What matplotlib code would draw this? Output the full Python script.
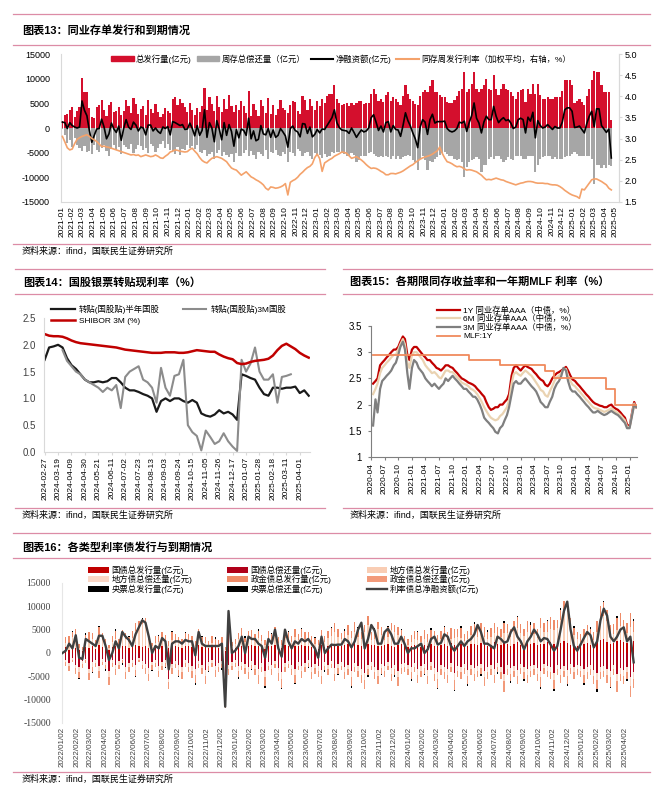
import matplotlib
matplotlib.use('Agg')
import matplotlib.pyplot as plt
import matplotlib.dates as mdates
from matplotlib.lines import Line2D
from matplotlib.patches import Patch
from matplotlib.ticker import FuncFormatter
import numpy as np
import pandas as pd

plt.rcParams['font.family'] = ['Liberation Sans', 'Noto Sans CJK SC']
plt.rcParams['axes.unicode_minus'] = False

# ---------------- chart 13: weekly CD issuance / maturity (亿元) ----------------
CD_ISSUE = [
    1500, 2600, 2900, 3600, 4300, 2200, 3400, 4200, 10200, 7300,
    7300, 4100, 2300, 2000, 4200, 4700, 5800, 3700, 2400, 4600,
    5200, 3200, 3500, 4300, 2700, 3400, 5600, 4400, 3000, 6200,
    4800, 2900, 3800, 4400, 2600, 5600, 3900, 3100, 4800, 3300,
    2200, 2800, 4000, 3500, 3000, 5900, 6300, 4700, 5900, 5000,
    4200, 3300,
    5000, 3600, 2600, 4000, 3300, 4500, 8200, 3700, 6300, 4800,
    3500, 6500, 4200, 3200, 6000, 3900, 6700, 4500, 3200, 4700,
    3600, 5500, 4500, 3000, 7600, 2400, 4900, 3700, 2500, 5700,
    4500, 3100, 6200, 2900, 4600, 2600, 3900, 5700, 4100, 3600,
    3000, 4700, 5400, 5300, 3500, 2800, 6500, 5800, 3700, 6000,
    4500, 3700,
    5500, 4500, 6000, 5000, 6500, 7000, 7000, 8700, 6000, 5000,
    4600, 4800, 5000, 4500, 5000, 4600, 5000, 5400, 5400, 4800,
    5000, 5000, 7000, 8000, 7000, 5500, 6000, 5200, 6800, 7300,
    5500, 6300, 6000, 5200, 4600, 6500, 8700, 7000, 6000, 5500,
    4800, 4600, 6500, 7300, 7700, 7300, 8500, 9700, 7300, 7300,
    6800, 6300,
    6300, 5200, 5000, 5000, 5700, 6500, 7500, 8000, 11400, 7300,
    8000, 9000, 11400, 8000, 7300, 8000, 8700, 10000, 8000, 7700,
    10700, 8000, 6700, 8000, 9000, 8000, 7700, 7300, 6500, 6000,
    7300, 7800, 8000, 5300, 8000, 7000, 9000, 7000, 9000, 6800,
    6000, 6000, 6300, 6000, 6000, 6300, 6300, 6300, 7500, 9700,
    9700, 9700,
    8700, 5000, 5500, 6000, 5300, 4600, 6500, 8000, 9700, 11700,
    11400, 11400, 8700, 7300, 7300, 7300, 1600,
]
CD_REPAY = [
    -300, -1500, -3000, -2500, -3800, -2000, -3400, -4000, -4700, -3700,
    -4800, -4600, -5200, -3500, -4400, -4800, -4000, -3500, -4600, -5800,
    -4200, -3400, -4400, -3900, -5200, -3500, -3900, -4200, -3300, -5000,
    -4200, -3500, -3600, -4400, -4000, -5000, -3300, -3700, -4800, -4000,
    -3300, -2600, -4100, -3200, -4400, -4600, -5200, -3900, -5400, -4300,
    -4500, -3500,
    -4000, -3700, -4200, -3500, -4800, -5000, -4500, -5600, -5200, -4800,
    -6300, -5000, -4400, -5600, -4900, -5400, -6000, -5200, -6900, -5000,
    -5600, -5700, -5000, -4500, -5600, -4600, -5500, -6300, -4800, -5200,
    -5700, -4500, -6300, -4800, -5000, -4500, -5400, -5800, -4900, -5200,
    -6900, -4800, -5000, -5800, -4300, -4600, -5600, -5000, -4800, -5800,
    -6300, -5000,
    -5800, -5500, -6200, -5300, -6000, -5700, -4900, -5000, -4900, -4900,
    -5000, -5300, -5600, -5600, -5000, -5500, -6900, -6500, -5800, -5600,
    -5600, -5000, -4900, -5300, -5800, -6000, -5600, -6000, -5700, -6000,
    -6300, -5800, -6300, -5600, -6300, -6000, -5600, -5500, -5600, -6500,
    -7000, -8600, -6300, -5600, -6500, -8600, -6800, -6900, -6300, -6000,
    -5500, -5000,
    -4900, -5300, -5600, -5800, -6300, -6600, -6300, -7000, -10000, -8000,
    -6900, -6500, -6300, -6000, -6300, -9000, -7500, -7600, -6300, -6000,
    -6300, -5600, -5600, -6300, -6900, -6500, -6000, -6300, -6600, -5800,
    -5600, -5800, -6300, -6300, -5800, -5600, -5800, -9000, -7500, -6300,
    -6000, -5800, -5600, -5800, -6300, -6000, -6300, -6300, -6300, -6000,
    -5600, -5600,
    -5300, -4900, -5300, -5600, -5600, -5600, -5600, -5600, -6300, -11400,
    -7500, -7500, -8200, -7500, -8200, -7500, -7700,
]
CD_RATE = [
    3.05, 2.92, 2.78, 2.73, 2.75, 2.88, 2.98, 3.02, 3.05, 3.07,
    3.09, 3.05, 3.00, 2.97, 2.93, 2.87, 2.81, 2.82, 2.80, 2.79,
    2.77, 2.75, 2.73, 2.71, 2.69, 2.67, 2.65, 2.63, 2.61, 2.62,
    2.60, 2.61, 2.57, 2.59, 2.61, 2.59, 2.57, 2.58, 2.61, 2.58,
    2.54, 2.53, 2.58, 2.62, 2.68, 2.70, 2.73, 2.72, 2.70, 2.69,
    2.68, 2.69, 2.74, 2.77, 2.70, 2.64, 2.55, 2.48, 2.44, 2.42,
    2.48, 2.53, 2.55, 2.57, 2.55, 2.53, 2.49, 2.45, 2.37, 2.30,
    2.27, 2.25, 2.19, 2.13, 2.17, 2.21, 2.15, 2.09, 2.06, 2.02,
    1.99, 1.95, 1.90, 1.82, 1.78, 1.85, 1.84, 1.82, 1.83, 1.85,
    1.88, 1.93, 1.66, 1.96, 2.00, 2.03, 2.08, 2.15, 2.20, 2.26,
    2.31, 2.34, 2.40, 2.55, 2.63, 2.52, 2.22, 2.42, 2.46, 2.50,
    2.53, 2.58, 2.61, 2.64, 2.68, 2.67, 2.65, 2.59, 2.53, 2.55,
    2.57, 2.53, 2.49, 2.44, 2.38, 2.33, 2.29, 2.30, 2.29, 2.26,
    2.22, 2.19, 2.14, 2.14, 2.17, 2.17, 2.16, 2.18, 2.20, 2.23,
    2.27, 2.31, 2.35, 2.38, 2.43, 2.47, 2.51, 2.54, 2.56, 2.58,
    2.60, 2.63, 2.67, 2.71, 2.80, 2.65, 2.54, 2.45, 2.43, 2.40,
    2.36, 2.33, 2.34, 2.32, 2.28, 2.25, 2.26, 2.25, 2.23, 2.21,
    2.17, 2.13, 2.07, 2.02, 2.03, 2.02, 2.04, 2.06, 2.04, 2.02,
    2.01, 1.98, 1.96, 1.94, 1.92, 1.90, 1.92, 1.94, 1.95, 1.97,
    1.98, 1.98, 1.97, 1.95, 1.94, 1.94, 1.94, 1.93, 1.93, 1.91,
    1.90, 1.90, 1.89, 1.86, 1.82, 1.77, 1.73, 1.69, 1.66, 1.64,
    1.62, 1.58, 1.80, 1.78, 1.86, 1.94, 2.02, 2.04, 2.04, 2.01,
    1.98, 1.94, 1.90, 1.82, 1.78,
]

# ---------------- chart 14: bill rediscount rates (weekly, %) ----------------
BILL_6M = [
    1.72, 1.95, 1.97, 2.00, 1.95, 1.75, 1.62, 1.55, 1.45, 1.35,
    1.30, 1.30, 1.32, 1.30, 1.32, 1.38, 1.38, 1.30, 1.20, 1.15,
    1.15, 1.12, 1.08, 1.05, 1.00, 0.75, 0.95, 1.00, 0.95, 1.00,
    1.00, 0.95, 0.92, 0.97, 0.92, 0.72, 0.68, 0.66, 0.70, 0.78,
    0.72, 0.75, 0.70, 0.60, 1.45, 1.42, 1.38, 1.35, 1.20, 1.08,
    1.05, 1.20, 1.20, 1.18, 1.20, 1.20, 1.22, 1.10, 1.15, 1.05,
]
BILL_3M = [
    np.nan, np.nan, np.nan, np.nan, 1.90, 1.70, 1.60, 1.50, 1.45, 1.35,
    1.30, 1.25, 1.20, 1.12, 1.20, 1.15, 1.25, 0.82, 1.40, 1.50,
    1.55, 1.60, 1.35, 1.30, 1.20, 0.92, 1.57, 1.20, 1.05, 1.42,
    1.45, 1.72, 0.50, 0.37, 0.30, 0.03, 0.40, 0.28, 0.15, 0.20,
    0.35, 0.20, 0.10, 0.02, 1.72, 1.50, 1.65, 1.95, 1.50, 1.35,
    1.35, 1.45, 0.92, 1.40, 1.42, 1.45, np.nan, np.nan, np.nan, np.nan,
]
SHIBOR_3M = [
    2.20, 2.17, 2.16, 2.16, 2.15, 2.12, 2.08, 2.05, 2.03, 2.02,
    2.01, 2.00, 1.99, 1.98, 1.97, 1.96, 1.95, 1.93, 1.91, 1.90,
    1.89, 1.88, 1.87, 1.86, 1.85, 1.85, 1.85, 1.86, 1.86, 1.86,
    1.85, 1.85, 1.86, 1.88, 1.90, 1.89, 1.88, 1.87, 1.87, 1.82,
    1.78, 1.75, 1.73, 1.66, 1.64, 1.65, 1.68, 1.70, 1.71, 1.72,
    1.74, 1.80, 1.90, 1.98, 2.02, 1.97, 1.92, 1.85, 1.80, 1.76,
]

# ---------------- chart 15: CD yields (semi-monthly, %) and MLF ----------------
CD_1Y = [
    2.40, 2.45, 2.50, 2.75, 2.80, 2.85, 2.90, 2.95, 3.00, 3.05, 3.05,
    3.10, 3.20, 3.30, 3.25, 2.95, 2.85, 3.05, 3.10, 3.10, 3.05,
    3.00, 2.95, 2.90, 2.85, 2.85, 2.80, 2.75, 2.70, 2.68, 2.65,
    2.70, 2.75, 2.75, 2.72, 2.70, 2.65, 2.60, 2.55, 2.50, 2.48,
    2.45, 2.42, 2.40, 2.38, 2.35, 2.30, 2.25, 2.20, 2.15, 2.05,
    1.95, 1.90, 1.92, 1.95, 1.95, 2.00, 2.00, 2.05, 2.10, 2.20,
    2.55, 2.70, 2.75, 2.70, 2.65, 2.70, 2.75, 2.72, 2.70, 2.68,
    2.62, 2.58, 2.52, 2.48, 2.45, 2.38, 2.35, 2.40, 2.50, 2.55,
    2.60, 2.62, 2.65, 2.68, 2.72, 2.65, 2.55, 2.48, 2.45, 2.40,
    2.35, 2.30, 2.25, 2.20, 2.15, 2.10, 2.05, 2.02, 2.00, 1.98,
    1.97, 1.95, 1.95, 1.98, 2.00, 1.95, 1.92, 1.90, 1.85, 1.80,
    1.75, 1.62, 1.58, 1.80, 2.05, 1.95,
]
CD_6M = [
    2.20, 2.30, 2.40, 2.60, 2.70, 2.75, 2.80, 2.85, 2.90, 2.95, 2.95,
    3.05, 3.15, 3.25, 3.15, 2.80, 2.70, 2.95, 3.00, 3.00, 2.95,
    2.90, 2.85, 2.75, 2.70, 2.65, 2.60, 2.62, 2.58, 2.52, 2.50,
    2.58, 2.65, 2.65, 2.62, 2.62, 2.58, 2.52, 2.48, 2.42, 2.40,
    2.38, 2.35, 2.30, 2.28, 2.25, 2.20, 2.12, 2.05, 1.95, 1.88,
    1.80, 1.75, 1.72, 1.70, 1.72, 1.78, 1.82, 1.88, 1.95, 2.08,
    2.40, 2.58, 2.62, 2.58, 2.55, 2.60, 2.65, 2.62, 2.58, 2.55,
    2.48, 2.42, 2.35, 2.28, 2.25, 2.18, 2.15, 2.25, 2.35, 2.45,
    2.52, 2.55, 2.60, 2.68, 2.68, 2.55, 2.45, 2.38, 2.35, 2.30,
    2.25, 2.20, 2.15, 2.10, 2.05, 2.00, 1.95, 1.93, 1.92, 1.90,
    1.88, 1.86, 1.88, 1.90, 1.93, 1.90, 1.86, 1.84, 1.80, 1.75,
    1.70, 1.58, 1.56, 1.78, 2.02, 1.95,
]
CD_3M = [
    1.60, 2.10, 1.85, 2.30, 2.45, 2.50, 2.55, 2.60, 2.65, 2.75, 2.80,
    2.95, 3.10, 3.20, 3.05, 2.60, 2.30, 2.70, 2.85, 2.80, 2.70,
    2.65, 2.60, 2.50, 2.45, 2.40, 2.35, 2.40, 2.35, 2.30, 2.35,
    2.40, 2.50, 2.45, 2.50, 2.55, 2.50, 2.45, 2.40, 2.35, 2.30,
    2.30, 2.25, 2.20, 2.15, 2.15, 2.10, 2.00, 1.90, 1.75, 1.70,
    1.65, 1.60, 1.55, 1.48, 1.45, 1.55, 1.60, 1.70, 1.80, 1.95,
    2.20, 2.40, 2.45, 2.40, 2.40, 2.45, 2.50, 2.45, 2.40, 2.35,
    2.30, 2.25, 2.15, 2.05, 2.00, 1.95, 1.95, 2.05, 2.15, 2.30,
    2.40, 2.45, 2.55, 2.70, 2.65, 2.45, 2.30, 2.25, 2.25, 2.20,
    2.15, 2.10, 2.05, 2.00, 1.95, 1.90, 1.85, 1.85, 1.88, 1.85,
    1.82, 1.80, 1.82, 1.85, 1.88, 1.85, 1.82, 1.80, 1.75, 1.70,
    1.65, 1.55, 1.55, 1.75, 2.00, 1.95,
]
MLF_DATES = ['2020-04-15', '2022-01-17', '2022-08-15', '2023-06-15',
             '2023-08-15', '2024-07-25', '2024-09-25', '2025-02-15']
MLF_RATE = [2.95, 2.85, 2.75, 2.65, 2.50, 2.30, 2.00, 2.00]

# ---------------- chart 16: rate bond issuance / repayment (weekly, 亿元) ----------------
GOV_ISS = [
    900, 1200, 700, 1500, 1100, 600, 500, 1300, 1100, 1600,
    900, 1700, 1200, 1000, 700, 1300, 1400, 1000, 1600, 1400,
    1100, 1300, 1700, 1500, 1200, 1600, 1100, 800, 1400, 1300,
    1600, 1300, 1000, 1500, 1400, 1200, 1100, 1600, 1400, 1300,
    900, 1700, 1200, 1300, 1000, 1500, 1300, 1100, 1400, 500,
    4500, 900,
    1100, 1300, 1500, 1000, 1400, 1700, 1400, 1600, 1300, 900,
    1600, 1400, 1800, 1200, 1000, 1700, 1500, 1300, 1600, 1400,
    1700, 1500, 1600, 1300, 1100, 900, 1800, 1200, 1400, 1600,
    1900, 1600, 1400, 1700, 2000, 1600, 2100, 1700, 1500, 1200,
    1900, 1700, 1800, 1400, 1600, 1700, 2000, 1600, 1300, 1700,
    2000, 1500,
    1200, 1400, 1700, 1600, 1300, 1800, 1500, 1900, 1600, 1400,
    1700, 1900, 1600, 2100, 1800, 1700, 2000, 1400, 1600, 1900,
    2000, 1700, 2200, 1900, 1600, 1800, 2300, 2000, 1700, 2100,
    1900, 1600, 2000, 2300, 1800, 1500, 2200, 1900, 2200, 1700,
    2000, 1900, 2300, 2400, 2000, 1700, 2100, 2500, 2200, 1800,
    1600, 1400,
    1700, 1900, 2200, 1800, 1600, 2300, 2700, 2900, 2300, 2000,
    2200, 2500, 2800, 2300, 2100, 2900, 2500,
]
GOV_REP = [
    -800, -1500, -2200, -1000, -2500, -3000, -1800, -1200, -3500, -2000,
    -1500, -2800, -1200, -2000, -3800, -1600, -2500, -1800, -1200, -3000,
    -2200, -1500, -2600, -1000, -1800, -2400, -3200, -2000, -1500, -2800,
    -2000, -1600, -5500, -2400, -1800, -2600, -3000, -1500, -2200, -2800,
    -3500, -1800, -2500, -3600, -2000, -1600, -2800, -2200, -1800, -10500,
    -2500, -2000,
    -1500, -2800, -2000, -2400, -3000, -1800, -2600, -3500, -2200, -3800,
    -2000, -2600, -1800, -3200, -4000, -2200, -1800, -2600, -3400, -2000,
    -2800, -2200, -1600, -3000, -2400, -2800, -3600, -2000, -2600, -1800,
    -3200, -2400, -2000, -3000, -2600, -3800, -2200, -2800, -3400, -4200,
    -2600, -2000, -3000, -3600, -2400, -2800, -2000, -3200, -2600, -3800,
    -2400, -2200,
    -2600, -3000, -2200, -3400, -2800, -2400, -3600, -2000, -3200, -4000,
    -2600, -3000, -3400, -2200, -4200, -2800, -3000, -2400, -3600, -2600,
    -3200, -2800, -2400, -3800, -3000, -2600, -3400, -2200, -3000, -4400,
    -2600, -3200, -2800, -3600, -2400, -3000, -3400, -2800, -2600, -3200,
    -3800, -2400, -2800, -3000, -4200, -2600, -3400, -2800, -3600, -2400,
    -3000, -2600,
    -2800, -3400, -3000, -2600, -3600, -4200, -3000, -2800, -3400, -3800,
    -2600, -4400, -3200, -3600, -3000, -5200, -4000,
]
LOC_ISS = [
    0, 900, 1300, 1900, 2100, 500, 200, 1100, 1600, 1300,
    900, 1900, 1500, 800, 400, 1100, 1600, 1000, 1800, 1500,
    1200, 1900, 3000, 4000, 5000, 4500, 1600, 600, 800, 1100,
    1300, 1200, 600, 1300, 1100, 900, 800, 1000, 1200, 1000,
    700, 1600, 900, 800, 500, 600, 500, 400, 500, 200,
    2000, 500,
    800, 1600, 2200, 1300, 1800, 1500, 1200, 1600, 1300, 900,
    1500, 1100, 1800, 900, 800, 1600, 1300, 1000, 1900, 1300,
    1800, 1500, 1300, 1000, 900, 800, 1300, 1200, 1800, 2100,
    2600, 1900, 1500, 1300, 1900, 1600, 2400, 1800, 1500, 3400,
    4000, 1000, 1300, 3700, 2200, 1000, 1500, 3300, 3300, 2200,
    900, 600,
    500, 900, 1300, 1200, 1000, 1300, 900, 1200, 1500, 1000,
    1300, 1600, 1200, 1000, 1500, 1800, 1300, 1200, 1500, 1900,
    2200, 1800, 2100, 1600, 1300, 1600, 1900, 1500, 1800, 2100,
    2400, 1900, 2700, 3000, 2500, 2100, 2400, 2200, 1900, 1600,
    3300, 2700, 2200, 2800, 3000, 3700, 5000, 6000, 6500, 3700,
    2200, 1500,
    700, 1300, 1600, 1500, 1200, 2100, 4500, 5000, 4500, 1900,
    1800, 2400, 3000, 2400, 2100, 2700, 1900,
]
LOC_REP = [
    -200, -400, -600, -400, -800, -1000, -600, -400, -700, -1000,
    -600, -1100, -700, -500, -1300, -600, -900, -700, -400, -1000,
    -800, -600, -1000, -400, -700, -800, -1200, -600, -600, -1000,
    -700, -600, -800, -900, -600, -1000, -1000, -600, -800, -1100,
    -1300, -600, -800, -1300, -800, -600, -900, -700, -600, -600,
    -900, -700,
    -600, -1000, -700, -800, -1100, -700, -900, -1300, -800, -1400,
    -700, -900, -600, -1100, -1500, -800, -600, -900, -1300, -700,
    -1100, -800, -600, -1100, -800, -1000, -1300, -700, -900, -600,
    -1200, -800, -700, -1100, -900, -1400, -800, -1000, -1300, -1500,
    -900, -700, -1100, -1300, -800, -1000, -700, -1200, -900, -1400,
    -800, -800,
    -900, -1100, -800, -1300, -1000, -800, -1300, -700, -1200, -1500,
    -900, -1100, -1300, -800, -1600, -1000, -1100, -800, -1300, -900,
    -1200, -1000, -800, -1400, -1100, -900, -1300, -800, -1100, -1700,
    -900, -1200, -1000, -1300, -800, -1100, -1300, -1000, -900, -1200,
    -1400, -800, -1000, -1100, -1500, -900, -1300, -1000, -1300, -800,
    -1100, -900,
    -1000, -1300, -1100, -900, -1300, -1500, -1100, -1000, -1300, -1400,
    -900, -1700, -1200, -1300, -1100, -1800, -1500,
]
POL_ISS = [
    500, 1300, 1600, 1100, 1900, 900, 600, 1500, 1800, 1300,
    1000, 1900, 1600, 1200, 700, 1300, 1800, 1100, 1600, 1400,
    1200, 1600, 1800, 1300, 1100, 1500, 1300, 800, 1400, 1300,
    1700, 1400, 1000, 1600, 1500, 1300, 1100, 1600, 1400, 1300,
    1000, 1800, 1300, 1400, 1100, 1600, 1300, 1200, 1500, 500,
    2000, 1000,
    1100, 1400, 1600, 1000, 1500, 1700, 1400, 1600, 1300, 1000,
    1700, 1500, 1900, 1300, 1000, 1800, 1600, 1300, 1600, 1400,
    1700, 1600, 1600, 1300, 1200, 1000, 1900, 1300, 1500, 1600,
    1900, 1700, 1400, 1800, 2000, 1600, 2200, 1800, 1600, 1300,
    2000, 1700, 1900, 1500, 1700, 1800, 2100, 1600, 1300, 1700,
    2000, 1600,
    1300, 1500, 1700, 1600, 1300, 1900, 1600, 1900, 1700, 1500,
    1800, 2000, 1600, 2200, 1900, 1700, 2100, 1500, 1600, 1900,
    2100, 1800, 2200, 2000, 1700, 1900, 2300, 2000, 1700, 2200,
    1900, 1600, 2100, 2400, 1900, 1600, 2200, 2000, 2300, 1800,
    2100, 1900, 2300, 2500, 2000, 1700, 2200, 2600, 2200, 1900,
    1600, 1500,
    1700, 2000, 2200, 1900, 1600, 2400, 2800, 3000, 2400, 2100,
    2200, 2600, 2800, 2400, 2200, 3000, 2500,
]
POL_REP = [
    -400, -800, -1100, -600, -1300, -1400, -900, -600, -1500, -1000,
    -800, -1400, -700, -1000, -1700, -800, -1300, -900, -600, -1500,
    -1100, -800, -1300, -600, -900, -1200, -1600, -1000, -800, -1400,
    -1000, -800, -1400, -1300, -900, -1300, -1500, -800, -1100, -1400,
    -1700, -900, -1300, -1800, -1000, -800, -1400, -1100, -900, -700,
    -1300, -1000,
    -800, -1400, -1000, -1200, -1500, -900, -1300, -1800, -1100, -1900,
    -1000, -1300, -900, -1600, -2000, -1100, -900, -1300, -1700, -1000,
    -1400, -1100, -800, -1500, -1200, -1400, -1800, -1000, -1300, -900,
    -1600, -1200, -1000, -1500, -1300, -1900, -1100, -1400, -1700, -2100,
    -1300, -1000, -1500, -1800, -1200, -1400, -1000, -1600, -1300, -1900,
    -1200, -1100,
    -1300, -1500, -1100, -1700, -1400, -1200, -1800, -1000, -1600, -2000,
    -1300, -1500, -1700, -1100, -2100, -1400, -1500, -1200, -1800, -1300,
    -1600, -1400, -1200, -1900, -1500, -1300, -1800, -1100, -1500, -2200,
    -1300, -1600, -1400, -1800, -1200, -1500, -1800, -1400, -1300, -1600,
    -2000, -1200, -1400, -1500, -2100, -1300, -1800, -1400, -1800, -1200,
    -1500, -1300,
    -1400, -1800, -1500, -1300, -1800, -2100, -1500, -1400, -1800, -2000,
    -1300, -2200, -1700, -1800, -1500, -2500, -2000,
]
CB_ISS = [
    0, 0, 0, 250, 0, 0, 0, 300, 0, 0,
    0, 250, 0, 0, 0, 0, 300, 0, 0, 0,
    250, 0, 0, 0, 300, 0, 0, 0, 0, 250,
    0, 0, 0, 300, 0, 0, 0, 250, 0, 0,
    0, 0, 300, 0, 0, 0, 250, 0, 0, 0,
    300, 0, 0, 0, 0, 250, 0, 0, 0, 300,
    0, 0, 0, 250, 0, 0, 0, 0, 300, 0,
    0, 0, 250, 0, 0, 0, 300, 0, 0, 0,
    0, 250, 0, 0, 0, 300, 0, 0, 0, 250,
    0, 0, 0, 0, 300, 0, 0, 0, 250, 0,
    0, 0, 300, 0, 0, 0, 0, 250, 0, 0,
    0, 300, 0, 0, 0, 250, 0, 0, 0, 0,
    300, 0, 0, 0, 450, 0, 0, 0, 300, 0,
    0, 0, 0, 450, 0, 0, 0, 300, 0, 0,
    0, 450, 0, 0, 0, 0, 300, 0, 0, 0,
    450, 0, 0, 0, 300, 0, 0, 0, 0, 450,
    0, 0, 0, 300, 0, 0, 0, 450, 0, 0,
    0, 0, 300,
]
CB_REP = [
    0, 0, 0, 0, 0, -250, 0, 0, 0, -300,
    0, 0, 0, -250, 0, 0, 0, 0, -300, 0,
    0, 0, -250, 0, 0, 0, 0, -300, 0, 0,
    0, -250, 0, 0, 0, -300, 0, 0, 0, 0,
    -250, 0, 0, 0, -300, 0, 0, 0, -250, 0,
    0, 0, 0, -300, 0, 0, 0, -250, 0, 0,
    0, -300, 0, 0, 0, 0, -250, 0, 0, 0,
    -300, 0, 0, 0, -250, 0, 0, 0, 0, -300,
    0, 0, 0, -250, 0, 0, 0, -300, 0, 0,
    0, 0, -250, 0, 0, 0, -300, 0, 0, 0,
    -250, 0, 0, 0, 0, -300, 0, 0, 0, -250,
    0, 0, 0, -300, 0, 0, 0, 0, -250, 0,
    0, 0, -300, 0, 0, 0, -450, 0, 0, 0,
    0, -300, 0, 0, 0, -450, 0, 0, 0, -300,
    0, 0, 0, 0, -450, 0, 0, 0, -300, 0,
    0, 0, -450, 0, 0, 0, 0, -300, 0, 0,
    0, -450, 0, 0, 0, -300, 0, 0, 0, 0,
    -450, 0, 0,
]
NET_RATE_BOND = [
    0, 500, 2000, 1000, 3800, -1000, -1300, 3000, 2500, 2000,
    1500, 3700, 3700, 1500, -1500, 0, 2500, 1000, 4500, 3500,
    2800, 1500, 4000, 5500, 7000, 6500, 3500, 0, 1500, 1000,
    3200, 2500, -3500, 2000, 2500, 2500, 2000, 2800, 2500, 2500,
    -500, 4500, 2000, 1500, 1500, 1500, 1500, 1500, 2000, -11500,
    9000, 0, 500, 1500, 3500, 0, 3500, 3000, 3000, 2000,
    1500, -1000, 3000, 2000, 5000, 1000, -800, 5000, 2500, 1000,
    2500, 2000, 3000, 2500, 3000, 2000, 1000, -1000, 3500, 0,
    1000, 1800, 1700, 1800, 1800, 3000, 2500, 1200, 2500, 5000,
    6500, 1000, 3000, 6000, 4800, 2000, 2000, 4500, 5200, 4000,
    2000, 2000, 3500, 2000, 0, 1000, 1000, 1500, 2000, 0,
    800, 3000, 3500, 1800, 2200, 4000, 3500, 1500, 500, 1500,
    2500, 1500, 2500, 3000, 4000, 6000, 4500, 2000, 2000, 1500,
    1000, 3500, 3000, 2200, 2500, 4500, 5500, 3500, 2500, 800,
    2500, 3500, 5000, 4000, 2500, 3200, 3000, 1800, 500, 1500,
    5000, 9000, 11000, 5000, 1500, 500, 1800, 3200, 4500, 3800,
    1200, 2500, 7000, 9500, 8000, 3500, 2500, 3500, 5000, 5500,
    2500, 3500, -2000,
]

TITLE_13 = '图表13：同业存单发行和到期情况'
TITLE_14 = '图表14：国股银票转贴现利率（%）'
TITLE_15 = '图表15：各期限同存收益率和一年期MLF 利率（%）'
TITLE_16 = '图表16：各类型利率债发行与到期情况'
SOURCE = '资料来源：ifind，国联民生证券研究所'

PINK = '#dc8ca6'
W, H = 660, 811
fig = plt.figure(figsize=(W / 100, H / 100), dpi=100)


def add_ax(left, top, right, bottom):
    return fig.add_axes([left / W, 1 - bottom / H, (right - left) / W, (bottom - top) / H])


def hline(y, x0, x1):
    fig.add_artist(Line2D([x0 / W, x1 / W], [1 - y / H, 1 - y / H], color=PINK, lw=0.9))


def ftext(x, y, s, **kw):
    fig.text(x / W, 1 - y / H, s, va='center', ha='left', **kw)


def light_axes(ax, color='#d9d9d9'):
    for side in ['top', 'right']:
        ax.spines[side].set_visible(False)
    ax.spines['left'].set_color(color)
    ax.spines['bottom'].set_color(color)


# headers / footers
hline(14, 13, 650); hline(45, 13, 650)
ftext(22, 30, TITLE_13, fontsize=8, fontweight='bold')
hline(244, 13, 650)
ftext(22, 251, SOURCE, fontsize=6.5)

hline(269, 15, 325); hline(294, 15, 325)
ftext(23, 282, TITLE_14, fontsize=8, fontweight='bold')
hline(269, 343, 652); hline(294, 343, 652)
ftext(350, 282, TITLE_15, fontsize=8, fontweight='bold')
hline(508, 15, 325); hline(508, 343, 652)
ftext(22, 515, SOURCE, fontsize=6.5)
ftext(350, 515, SOURCE, fontsize=6.5)

hline(533, 13, 650); hline(558, 13, 650)
ftext(22, 547, TITLE_16, fontsize=8, fontweight='bold')
hline(772, 13, 650)
ftext(22, 779, SOURCE, fontsize=6.5)

# ---------------- chart 13 ----------------
RED13, GRAY13, ORANGE13 = '#d40f2d', '#a6a6a6', '#f4a26b'
ax = add_ax(61, 54.3, 619, 201.7)
d13 = pd.date_range('2021-01-03', periods=len(CD_ISSUE), freq='7D')
ax.bar(d13, CD_ISSUE, width=6.2, color=RED13, linewidth=0)
ax.bar(d13, CD_REPAY, width=6.2, color=GRAY13, linewidth=0)
net13 = np.array(CD_ISSUE) + np.array(CD_REPAY)
ax.plot(d13, net13, color='black', lw=1.2, zorder=3)
ax.set_ylim(-15000, 15000)
ax.set_yticks(range(-15000, 15001, 5000))
ax.set_xlim(pd.Timestamp('2020-12-30'), pd.Timestamp('2025-05-12'))
ax.set_xticks(pd.date_range('2021-01-01', '2025-05-01', freq='MS'))
ax.xaxis.set_major_formatter(mdates.DateFormatter('%Y-%m'))
ax.tick_params(axis='x', labelrotation=90, labelsize=6, length=0, pad=3)
ax.tick_params(axis='y', labelsize=6.5, length=0, pad=8)
light_axes(ax)
ax.spines['right'].set_visible(True)
ax.spines['right'].set_color('#d9d9d9')
ax2 = ax.twinx()
ax2.plot(d13, CD_RATE, color=ORANGE13, lw=1.2)
ax2.set_ylim(1.5, 5.0)
ax2.set_yticks(np.arange(1.5, 5.01, 0.5))
ax2.yaxis.set_major_formatter(FuncFormatter(lambda v, p: f'{v:.1f}'))
ax2.tick_params(axis='y', labelsize=6.5, length=2, color='#d9d9d9', pad=2)
for side in ['top', 'left', 'bottom']:
    ax2.spines[side].set_visible(False)
ax2.spines['right'].set_color('#d9d9d9')
h13 = [Patch(color=RED13), Patch(color=GRAY13),
       Line2D([], [], color='black', lw=1.5), Line2D([], [], color=ORANGE13, lw=1.5)]
l13 = ['总发行量(亿元)', '周存总偿还量（亿元）', '净融资额(亿元)', '同存周发行利率（加权平均，右轴，%）']
fig.legend(h13, l13, loc='center', bbox_to_anchor=(341 / W, 1 - 59 / H), ncol=4, frameon=False,
           fontsize=6, handlelength=2.7, handleheight=0.6, handletextpad=0.3, columnspacing=0.6,
           borderpad=0)

# ---------------- chart 14 ----------------
ax = add_ax(44, 318, 310, 452)
d14 = pd.date_range('2024-02-27', periods=len(BILL_6M), freq='7D')
ln_b, = ax.plot(d14, BILL_6M, color='#1a1a1a', lw=1.6)
ln_g, = ax.plot(d14, BILL_3M, color='#8c8c8c', lw=1.5)
ln_r, = ax.plot(d14, SHIBOR_3M, color='#c00000', lw=1.8)
ax.set_ylim(0, 2.5)
ax.set_yticks(np.arange(0, 2.51, 0.5))
ax.yaxis.set_major_formatter(FuncFormatter(lambda v, p: f'{v:.1f}'))
ax.set_xlim(pd.Timestamp('2024-02-26'), pd.Timestamp('2025-04-17'))
ax.set_xticks(pd.date_range('2024-02-27', periods=20, freq='21D'))
ax.xaxis.set_major_formatter(mdates.DateFormatter('%Y-%m-%d'))
ax.tick_params(axis='x', labelrotation=90, labelsize=6, length=2, color='#d9d9d9', pad=1.5)
ax.tick_params(axis='y', labelsize=7, length=0, pad=6, colors='#404040')
light_axes(ax)
fig.legend([ln_b, ln_r, ln_g], ['转贴(国股贴)半年国股', 'SHIBOR 3M (%)', '转贴(国股贴)3M国股'],
           loc='upper left', bbox_to_anchor=(47 / W, 1 - 301 / H), ncol=2, frameon=False,
           fontsize=6, handlelength=2.8, handletextpad=0.5, columnspacing=2.8, labelspacing=0.35,
           borderpad=0)

# ---------------- chart 15 ----------------
ax = add_ax(371, 326, 637, 457)
d15 = pd.date_range('2020-04-01', '2025-02-15', freq='SMS')[1:]
ln1, = ax.plot(d15, CD_1Y, color='#c00000', lw=1.6)
ln6, = ax.plot(d15, CD_6M, color='#ead3b2', lw=1.6)
ln3, = ax.plot(d15, CD_3M, color='#7f7f7f', lw=1.6)
lnm, = ax.step(pd.to_datetime(MLF_DATES), MLF_RATE, where='post', color='#f08a5d', lw=1.3)
ax.set_ylim(1, 3.5)
ax.set_yticks(np.arange(1, 3.51, 0.5))
ax.yaxis.set_major_formatter(FuncFormatter(lambda v, p: f'{v:g}'))
ax.set_xlim(pd.Timestamp('2020-04-01'), pd.Timestamp('2025-02-20'))
ax.set_xticks(pd.date_range('2020-04-01', '2025-01-01', freq='3MS'))
ax.xaxis.set_major_formatter(mdates.DateFormatter('%Y-%m'))
ax.tick_params(axis='x', labelrotation=90, labelsize=6, length=2.5, color='#7f7f7f', pad=2)
ax.tick_params(axis='y', labelsize=7, length=2.5, color='#7f7f7f', pad=4)
light_axes(ax, '#7f7f7f')
ax.legend([ln1, ln6, ln3, lnm],
          ['1Y 同业存单AAA（中债，%）', '6M 同业存单AAA（中债，%）', '3M 同业存单AAA（中债，%）', 'MLF:1Y'],
          loc='upper left', bbox_to_anchor=(433 / W, 1 - 302 / H), bbox_transform=fig.transFigure,
          frameon=False, fontsize=6, handlelength=2.7, handletextpad=0.4, labelspacing=0.05,
          borderpad=0)

# ---------------- chart 16 ----------------
ax = add_ax(62, 583, 637, 723)
d16 = pd.date_range('2022-01-02', periods=len(GOV_ISS), freq='7D')
C_GOV, C_GOV_R = '#c00000', '#b0001a'
C_LOC, C_LOC_R = '#f9cdb4', '#fbd7c6'
C_POL, C_POL_R = '#ef8b68', '#f29a7a'
pos = np.zeros(len(d16))
neg = np.zeros(len(d16))
bars = []
for vals, col, base in [(GOV_ISS, C_GOV, 'p'), (GOV_REP, C_GOV_R, 'n'),
                        (LOC_ISS, C_LOC, 'p'), (LOC_REP, C_LOC_R, 'n'),
                        (POL_ISS, C_POL, 'p'), (POL_REP, C_POL_R, 'n'),
                        (CB_ISS, 'black', 'p'), (CB_REP, 'black', 'n')]:
    v = np.array(vals, dtype=float)
    bottom = pos.copy() if base == 'p' else neg.copy()
    b = ax.bar(d16, v, width=2.8, bottom=bottom, color=col, linewidth=0)
    bars.append(b)
    if base == 'p':
        pos += v
    else:
        neg += v
ln_net, = ax.plot(d16, NET_RATE_BOND, color='#404040', lw=1.7, zorder=4)
ax.set_ylim(-15000, 15000)
ax.set_yticks(range(-15000, 15001, 5000))
ax.set_xlim(pd.Timestamp('2022-01-01'), pd.Timestamp('2025-04-27'))
ax.set_xticks(pd.date_range('2022-01-01', '2025-04-01', freq='MS') + pd.Timedelta(days=1))
ax.xaxis.set_major_formatter(mdates.DateFormatter('%Y/%m/%d'))
ax.tick_params(axis='x', labelrotation=90, labelsize=5.8, length=0, pad=3, colors='#404040')
ax.tick_params(axis='y', labelsize=7, length=0, pad=8, colors='#404040')
for t in ax.get_yticklabels():
    t.set_fontfamily(['Liberation Serif'])
light_axes(ax, '#e6e6e6')
ax.spines['bottom'].set_visible(False)
l16 = ['国债总发行量(亿元)', '国债总偿还量(亿元)', '地方债总发行量(亿元)',
       '地方债总偿还量(亿元)', '政金债总发行量(亿元)', '政金债总偿还量(亿元)',
       '央票总发行量(亿元)', '央票总偿还量(亿元)', '利率债总净融资额(亿元)']
h16 = bars + [ln_net]
order = [0, 3, 6, 1, 4, 7, 2, 5, 8]
fig.legend([h16[i] for i in order], [l16[i] for i in order], loc='upper left',
           bbox_to_anchor=(84 / W, 1 - 561 / H), ncol=3, frameon=False, fontsize=6,
           handlelength=2.5, handleheight=0.7, handletextpad=0.3, columnspacing=4.2,
           labelspacing=0.0, borderpad=0)

fig.savefig('out.png', dpi=100)
